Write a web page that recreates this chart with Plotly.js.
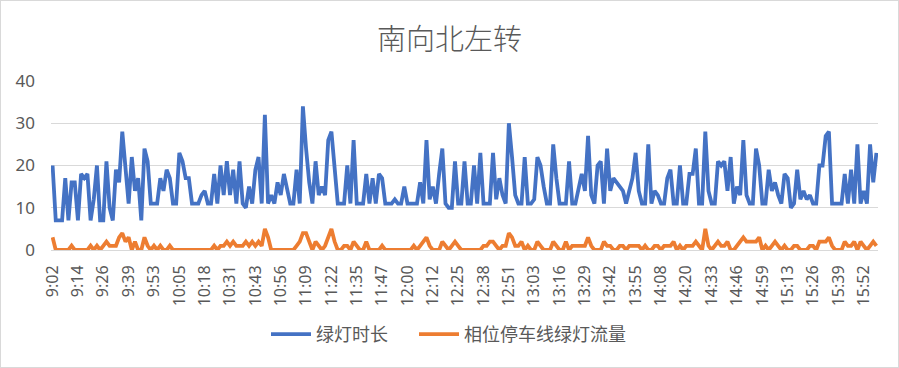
<!DOCTYPE html>
<html>
<head>
<meta charset="utf-8">
<script src="https://cdn.plot.ly/plotly-3.0.1.min.js"></script>
<style>
html,body{margin:0;padding:0;background:#fff;}
#chart{width:897px;height:366px;border:1px solid #d9d9d9;}
</style>
</head>
<body>
<div id="chart"></div>
<script>
const titleText = "南向北左转";
const seriesNames = ["绿灯时长", "相位停车线绿灯流量"];
const tickLabels = ["9:02","9:14","9:26","9:39","9:53","10:05","10:18","10:31","10:43","10:56","11:09","11:22","11:35","11:47","12:00","12:12","12:25","12:38","12:51","13:03","13:16","13:29","13:42","13:55","14:08","14:20","14:33","14:46","14:59","15:13","15:26","15:39","15:52"];
const labelStep = 8;

const greenDuration = [
20,7,7,7,17,7,16,16,7,18,
17,18,7,12,20,7,7,21,10,7,
19,16,28,20,11,22,14,17,7,24,
21,11,11,11,17,14,19,17,11,11,
23,21,17,17,11,11,11,13,14,11,
11,18,11,20,13,21,13,19,11,21,
11,10,15,11,19,22,11,32,11,13,
11,16,13,18,14,11,11,19,11,34,
24,16,11,21,13,15,13,26,28,19,
11,11,11,20,11,26,11,11,11,18,
11,17,11,18,17,11,11,11,12,11,
11,15,11,11,11,11,16,11,26,12,
15,11,18,24,11,10,10,21,11,11,
21,11,11,20,11,23,11,11,11,23,
12,17,13,11,30,22,13,11,11,22,
11,11,12,22,20,15,11,11,25,17,
11,11,11,21,11,11,15,18,14,27,
13,11,20,21,11,24,14,17,16,15,
14,11,14,17,23,14,11,11,25,11,
14,13,11,11,17,19,11,11,20,11,
11,18,18,24,11,11,28,14,11,11,
21,20,21,14,22,11,15,13,26,13,
11,11,24,20,11,11,19,14,16,13,
11,18,17,10,11,19,12,14,12,13,
11,11,20,20,27,28,11,11,11,11,
18,11,19,11,25,11,14,11,25,16,
23
];

const greenFlow = [
3,0,0,0,0,0,1,0,0,0,
0,0,1,0,1,0,1,2,1,1,
1,3,4,2,3,0,2,0,0,3,
1,0,1,0,1,0,0,1,0,0,
0,0,0,0,0,0,0,0,0,0,
0,1,0,1,1,2,1,2,1,1,
1,2,1,2,1,2,1,5,3,0,
0,0,0,0,0,0,0,1,2,4,
4,2,0,2,1,0,1,3,5,2,
0,0,1,1,0,2,1,0,0,2,
0,0,0,0,1,0,0,0,0,0,
0,0,0,0,1,0,1,2,3,1,
0,0,0,2,1,0,1,2,1,0,
0,0,0,0,0,0,1,1,2,2,
1,0,1,1,4,3,1,1,2,0,
1,0,0,2,1,0,0,0,2,1,
0,0,2,0,1,1,1,1,1,3,
1,0,0,0,2,1,1,0,0,1,
1,0,1,1,1,1,0,1,0,0,
1,1,0,1,1,1,2,0,1,0,
1,1,1,2,1,0,5,1,0,1,
2,1,1,2,0,0,1,2,3,2,
2,2,2,3,0,1,0,1,2,1,
0,1,0,0,1,1,0,0,0,1,
1,0,2,2,2,3,1,0,0,0,
2,1,1,2,0,2,1,0,1,2,
1
];

const idx = greenDuration.map((_, i) => i);
const tickVals = tickLabels.map((_, k) => k * labelStep);
const fontFam = "Noto Sans, Noto Sans CJK SC, sans-serif";

const traces = [
  {x: idx, y: greenDuration, name: seriesNames[0], type: "scatter", mode: "lines",
   line: {color: "#4472C4", width: 3.8}, legend: "legend"},
  {x: idx, y: greenFlow, name: seriesNames[1], type: "scatter", mode: "lines",
   line: {color: "#ED7D31", width: 3.8}, legend: "legend2"}
];

const legendBase = {orientation: "h", xref: "container", xanchor: "left", y: -0.5, yanchor: "middle",
  font: {size: 18, color: "#595959", family: "Noto Sans CJK SC, sans-serif"}, itemwidth: 40,
  bgcolor: "rgba(0,0,0,0)"};

const layout = {
  width: 897, height: 366,
  margin: {l: 50, r: 20, t: 80, b: 117, pad: 0, autoexpand: false},
  paper_bgcolor: "#fff", plot_bgcolor: "#fff",
  font: {family: fontFam, color: "#595959", size: 15},
  title: {text: titleText, font: {family: "Noto Sans CJK SC, sans-serif", size: 29, color: "#595959", weight: 300},
          x: 0.5, xanchor: "center", y: 0.895, yref: "container", yanchor: "middle"},
  xaxis: {range: [-0.5, greenDuration.length - 0.5], tickmode: "array", tickvals: tickVals, ticktext: tickLabels,
          tickangle: -90, showgrid: false, zeroline: false, showline: true, linecolor: "#d9d9d9", linewidth: 1,
          ticks: "", ticklabelstandoff: 8, tickfont: {size: 16, color: "#595959"}, fixedrange: true, automargin: false},
  yaxis: {range: [0, 40], tickvals: [0, 10, 20, 30, 40], showgrid: true, gridcolor: "#d9d9d9", gridwidth: 1,
          zeroline: false, showline: false, ticks: "", ticklabelstandoff: 15,
          tickfont: {size: 17, color: "#595959"}, fixedrange: true, automargin: false},
  showlegend: true,
  legend: Object.assign({}, legendBase, {x: 265 / 897}),
  legend2: Object.assign({}, legendBase, {x: 413 / 897}),
};

Plotly.newPlot("chart", traces, layout, {displayModeBar: false, staticPlot: true});
</script>
</body>
</html>
